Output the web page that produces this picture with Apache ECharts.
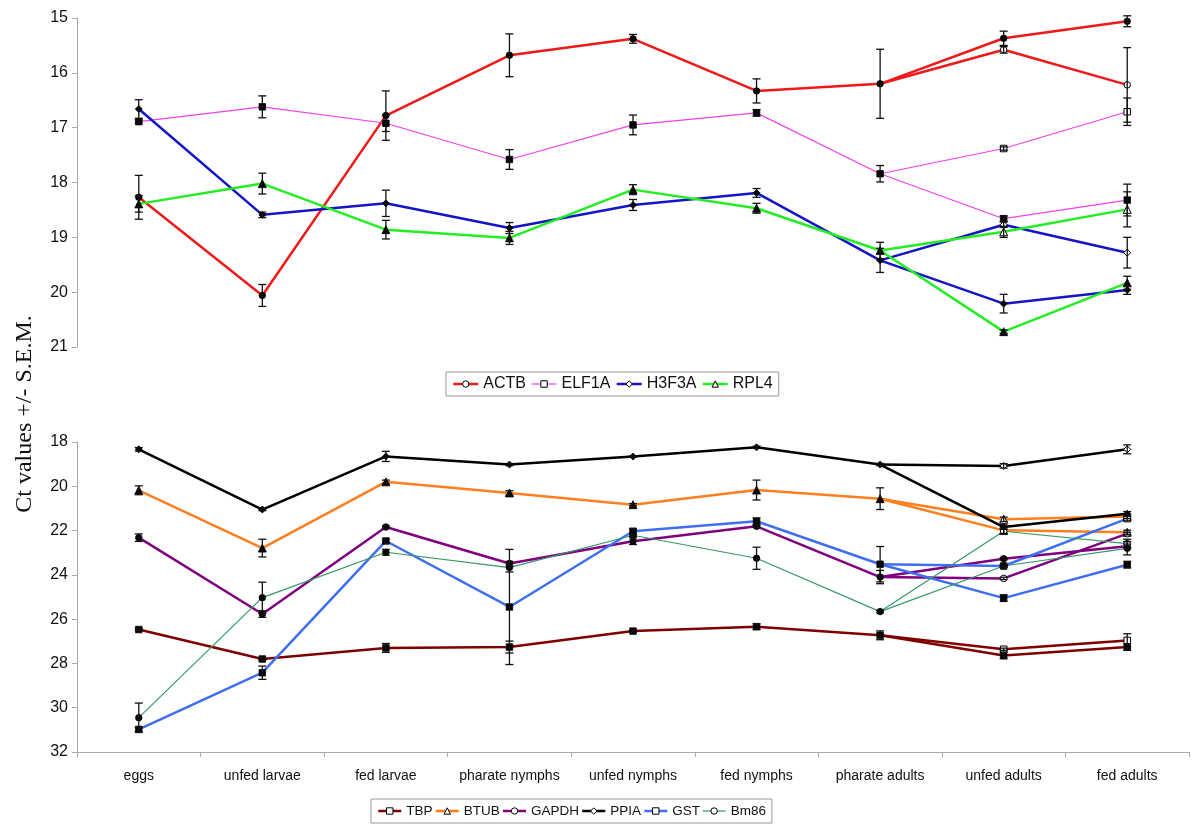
<!DOCTYPE html>
<html>
<head>
<meta charset="utf-8">
<script src="https://cdn.jsdelivr.net/npm/echarts@6/dist/echarts.min.js"></script>
<style>html,body{margin:0;padding:0;background:#fff}#c{width:1200px;height:838px}</style>
</head>
<body>
<div id="c"></div>
<script>
// ---------- DATA ----------
const categories = ['eggs','unfed larvae','fed larvae','pharate nymphs','unfed nymphs','fed nymphs','pharate adults','unfed adults','fed adults'];
const topTicks = [15,16,17,18,19,20,21];
const bottomTicks = [18,20,22,24,26,28,30,32];

// top panel: main (filled markers) across all stages; adult branch (open markers) for unfed / fed adults
const ACTB      = [18.27, 20.06, 16.78, 15.68, 15.38, 16.33, 16.20, 15.37, 15.06];
const ACTB_sem  = [0.40, 0.20, 0.45, 0.39, 0.08, 0.22, 0.63, 0.13, 0.10];
const ACTB_b    = [15.58, 16.22];
const ACTB_bsem = [0.06, 0.68];

const ELF1A      = [16.89, 16.62, 16.92, 17.58, 16.95, 16.73, 17.84, 18.66, 18.32];
const ELF1A_sem  = [0.03, 0.20, 0.15, 0.18, 0.18, 0.06, 0.15, 0.05, 0.29];
const ELF1A_b    = [17.38, 16.71];
const ELF1A_bsem = [0.03, 0.25];

const H3F3A      = [16.66, 18.59, 18.38, 18.83, 18.41, 18.19, 19.42, 20.21, 19.96];
const H3F3A_sem  = [0.17, 0.05, 0.24, 0.10, 0.10, 0.08, 0.22, 0.17, 0.08];
const H3F3A_b    = [18.77, 19.28];
const H3F3A_bsem = [0.05, 0.28];

const RPL4      = [18.39, 18.02, 18.86, 19.01, 18.13, 18.47, 19.24, 20.72, 19.83];
const RPL4_sem  = [0.15, 0.19, 0.17, 0.12, 0.09, 0.09, 0.15, 0.03, 0.12];
const RPL4_b    = [18.90, 18.49];
const RPL4_bsem = [0.10, 0.32];

// bottom panel
const TBP      = [26.47, 27.80, 27.30, 27.26, 26.54, 26.34, 26.73, 27.64, 27.26];
const TBP_sem  = [0.05, 0.05, 0.20, 0.27, 0.05, 0.13, 0.20, 0.15, 0.15];
const TBP_b    = [27.36, 26.96];
const TBP_bsem = [0.05, 0.30];

const BTUB      = [20.18, 22.79, 19.80, 20.30, 20.83, 20.17, 20.56, 21.99, 22.08];
const BTUB_sem  = [0.20, 0.40, 0.08, 0.10, 0.05, 0.45, 0.49, 0.15, 0.10];
const BTUB_b    = [21.49, 21.36];
const BTUB_bsem = [0.10, 0.10];

const GAPDH      = [22.32, 25.77, 21.84, 23.49, 22.48, 21.81, 24.10, 23.27, 22.71];
const GAPDH_sem  = [0.17, 0.15, 0.05, 0.10, 0.15, 0.05, 0.30, 0.05, 0.10];
const GAPDH_b    = [24.16, 22.14];
const GAPDH_bsem = [0.05, 0.05];

const PPIA      = [18.33, 21.05, 18.65, 19.02, 18.66, 18.24, 19.02, 21.84, 21.24];
const PPIA_sem  = [0.08, 0.05, 0.23, 0.05, 0.03, 0.05, 0.05, 0.10, 0.10];
const PPIA_b    = [19.08, 18.33];
const PPIA_bsem = [0.10, 0.20];

const GST      = [30.98, 28.42, 22.47, 25.45, 22.03, 21.58, 23.52, 25.05, 23.54];
const GST_sem  = [0.10, 0.30, 0.10, 2.60, 0.12, 0.15, 0.80, 0.15, 0.15];
const GST_b    = [23.60, 21.46];
const GST_bsem = [0.05, 0.10];

const Bm86      = [30.45, 25.03, 22.98, 23.67, 22.21, 23.25, 25.66, 23.60, 22.80];
const Bm86_sem  = [0.66, 0.70, 0.13, 0.20, 0.05, 0.50, 0.05, 0.05, 0.30];
const Bm86_b    = [22.03, 22.59];
const Bm86_bsem = [0.10, 0.20];

// ---------- BUILD ----------
const genes = [
  {name:'ACTB',  g:0, main:ACTB,  sem:ACTB_sem,  br:ACTB_b,  bsem:ACTB_bsem,  color:'#f01818', w:2.5, sym:'circle'},
  {name:'ELF1A', g:0, main:ELF1A, sem:ELF1A_sem, br:ELF1A_b, bsem:ELF1A_bsem, color:'#f040f0', w:1.2, sym:'rect'},
  {name:'H3F3A', g:0, main:H3F3A, sem:H3F3A_sem, br:H3F3A_b, bsem:H3F3A_bsem, color:'#1414c8', w:2.5, sym:'diamond'},
  {name:'RPL4',  g:0, main:RPL4,  sem:RPL4_sem,  br:RPL4_b,  bsem:RPL4_bsem,  color:'#22ee22', w:2.5, sym:'triangle'},
  {name:'TBP',   g:1, main:TBP,   sem:TBP_sem,   br:TBP_b,   bsem:TBP_bsem,   color:'#800000', w:2.5, sym:'rect'},
  {name:'BTUB',  g:1, main:BTUB,  sem:BTUB_sem,  br:BTUB_b,  bsem:BTUB_bsem,  color:'#ff7f1e', w:2.5, sym:'triangle'},
  {name:'GAPDH', g:1, main:GAPDH, sem:GAPDH_sem, br:GAPDH_b, bsem:GAPDH_bsem, color:'#800080', w:2.5, sym:'circle'},
  {name:'PPIA',  g:1, main:PPIA,  sem:PPIA_sem,  br:PPIA_b,  bsem:PPIA_bsem,  color:'#000000', w:2.5, sym:'diamond'},
  {name:'GST',   g:1, main:GST,   sem:GST_sem,   br:GST_b,   bsem:GST_bsem,   color:'#3f6ff0', w:2.5, sym:'rect'},
  {name:'Bm86',  g:1, main:Bm86,  sem:Bm86_sem,  br:Bm86_b,  bsem:Bm86_bsem,  color:'#339966', w:1.2, sym:'circle'}
];

const series = [];
const filled = {color:'#000', borderColor:'#000', borderWidth:0.8};
const open = {color:'#fff', borderColor:'#000', borderWidth:1};
function symSize(s){ return s==='triangle' ? 8 : (s==='diamond' ? 7 : 6.5); }

genes.forEach(G => {
  const bData = categories.map(() => null);
  const pIdx = 6;
  bData[pIdx] = {value: G.main[pIdx], symbol: 'none'};
  bData[7] = G.br[0];
  bData[8] = G.br[1];
  series.push({
    name: G.name, type:'line', xAxisIndex:G.g, yAxisIndex:G.g,
    data: bData, symbol: G.sym, symbolSize: symSize(G.sym),
    lineStyle:{color:G.color, width:G.w}, itemStyle: open,
    connectNulls:false, animation:false, z:3
  });
  series.push({
    name: G.name, type:'line', xAxisIndex:G.g, yAxisIndex:G.g,
    data: G.main, symbol: G.sym, symbolSize: symSize(G.sym),
    lineStyle:{color:G.color, width:G.w}, itemStyle: filled,
    animation:false, z:3
  });
  const eData = G.main.map((v,i) => [i, v, G.sem[i]]);
  eData.push([7, G.br[0], G.bsem[0]]);
  eData.push([8, G.br[1], G.bsem[1]]);
  series.push({
    name: G.name + ' err', type:'custom', xAxisIndex:G.g, yAxisIndex:G.g,
    data: eData, encode:{x:0, y:1}, z:4, animation:false, silent:true,
    renderItem: function(params, api){
      const x = api.value(0), v = api.value(1), s = api.value(2);
      const p1 = api.coord([x, v - s]);
      const p2 = api.coord([x, v + s]);
      const hw = 4;
      const st = {stroke:'#111', lineWidth:1.3, fill:null};
      return {type:'group', children:[
        {type:'line', shape:{x1:p1[0], y1:p1[1], x2:p2[0], y2:p2[1]}, style:st},
        {type:'line', shape:{x1:p1[0]-hw, y1:p1[1], x2:p1[0]+hw, y2:p1[1]}, style:st},
        {type:'line', shape:{x1:p2[0]-hw, y1:p2[1], x2:p2[0]+hw, y2:p2[1]}, style:st}
      ]};
    }
  });
});

function legendData(names){
  return names.map(n => {
    const G = genes.find(g => g.name === n);
    return {name:n, itemStyle:{color:'#fff', borderColor:'#000', borderWidth:1}, lineStyle:{color:G.color, width:G.w}};
  });
}

const axisLineStyle = {color:'#aaaaaa', width:1};
const yLabel = {color:'#111', fontSize:16, fontFamily:'Liberation Sans, Arial, sans-serif', margin:9};

const option = {
  backgroundColor:'#fff',
  animation:false,
  grid:[
    {left:77, right:11, top:18, height:329},
    {left:77, right:11, top:442, height:310}
  ],
  xAxis:[
    {type:'category', gridIndex:0, data:categories, boundaryGap:true, show:false},
    {type:'category', gridIndex:1, data:categories, boundaryGap:true,
     axisLine:{show:true, lineStyle:axisLineStyle},
     axisTick:{show:true, interval:0, length:5, lineStyle:axisLineStyle},
     axisLabel:{interval:0, color:'#111', fontSize:14, fontFamily:'Liberation Sans, Arial, sans-serif', margin:17},
     splitLine:{show:false}}
  ],
  yAxis:[
    {type:'value', gridIndex:0, inverse:true, min:15, max:21, interval:1,
     axisLine:{show:true, lineStyle:axisLineStyle}, axisTick:{show:true, length:5, lineStyle:axisLineStyle},
     axisLabel:yLabel, splitLine:{show:false}},
    {type:'value', gridIndex:1, inverse:true, min:18, max:32, interval:2,
     axisLine:{show:true, lineStyle:axisLineStyle}, axisTick:{show:true, length:5, lineStyle:axisLineStyle},
     axisLabel:yLabel, splitLine:{show:false}}
  ],
  legend:[
    {data:legendData(['ACTB','ELF1A','H3F3A','RPL4']), left:446, top:372, orient:'horizontal',
     itemWidth:25, itemHeight:8, itemGap:5, padding:[4,6,4,6],
     borderColor:'#999', borderWidth:1,
     textStyle:{color:'#111', fontSize:16, fontFamily:'Liberation Sans, Arial, sans-serif'}},
    {data:legendData(['TBP','BTUB','GAPDH','PPIA','GST','Bm86']), left:371, top:799, orient:'horizontal',
     itemWidth:23, itemHeight:8, itemGap:2, padding:[5,6,5,6],
     borderColor:'#999', borderWidth:1,
     textStyle:{color:'#111', fontSize:13.5, fontFamily:'Liberation Sans, Arial, sans-serif'}}
  ],
  graphic:[
    {type:'text', x:25, y:414, rotation:Math.PI/2,
     style:{text:'Ct values +/- S.E.M.', font:'24px "Liberation Serif", "Times New Roman", serif', fill:'#111', align:'center', verticalAlign:'middle'}}
  ],
  series: series
};

const chart = echarts.init(document.getElementById('c'), null, {renderer:'canvas'});
chart.setOption(option);
</script>
</body>
</html>
